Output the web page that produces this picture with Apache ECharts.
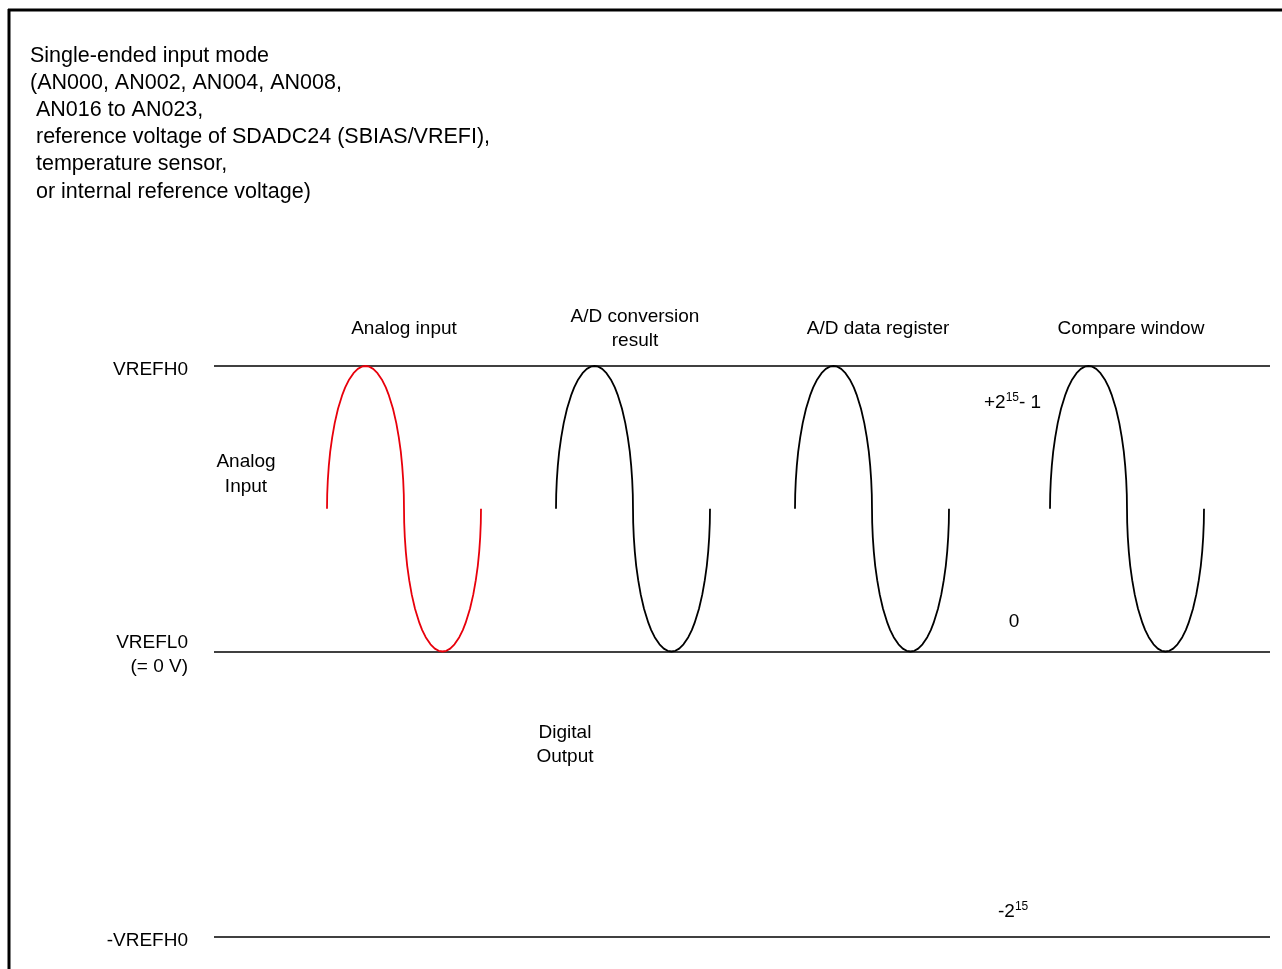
<!DOCTYPE html>
<html>
<head>
<meta charset="utf-8">
<script src="https://cdn.jsdelivr.net/npm/echarts@6/dist/echarts.min.js"></script>
<style>
  html, body { margin: 0; padding: 0; background: #fff; }
  #chart { width: 1282px; height: 969px; }
</style>
</head>
<body>
<div id="chart"></div>
<script>
// level labels on the y axis (-VREFH0, VREFL0, VREFH0)
var levelLabels = ['-VREFH0', 'VREFL0\n(= 0 V)', 'VREFH0'];

// column headings and where they sit
var columnNames = ['Analog input', 'A/D conversion\nresult', 'A/D data register', 'Compare window'];
var columnX = [404, 635, 878, 1131];

// left edge of each wave (x in px along the axis)
var waveStarts = [327, 556, 795, 1050];
var waveColors = ['#e8000b', '#000', '#000', '#000'];

// one wave: [dx from start, level] (0 = VREFL0, 1 = VREFH0)
var waveShape = [
    [0, 0.5], [0.2, 0.55], [0.8, 0.6], [1.8, 0.65], [3.2, 0.7], [5.2, 0.75], [7.7, 0.8], [11, 0.85],
    [15.4, 0.9], [18.2, 0.925], [21.7, 0.95], [26.5, 0.975], [30.8, 0.99], [34.7, 0.9975], [38.5, 1],
    [42.3, 0.9975], [46.2, 0.99], [50.5, 0.975], [55.3, 0.95], [58.8, 0.925], [61.6, 0.9], [66, 0.85],
    [69.3, 0.8], [71.8, 0.75], [73.8, 0.7], [75.2, 0.65], [76.2, 0.6], [76.8, 0.55], [77, 0.5],
    [77.2, 0.45], [77.8, 0.4], [78.8, 0.35], [80.2, 0.3], [82.2, 0.25], [84.7, 0.2], [88, 0.15],
    [92.4, 0.1], [95.2, 0.075], [98.7, 0.05], [103.5, 0.025], [107.8, 0.01], [111.7, 0.0025], [115.5, 0],
    [119.3, 0.0025], [123.2, 0.01], [127.5, 0.025], [132.3, 0.05], [135.8, 0.075], [138.6, 0.1], [143, 0.15],
    [146.3, 0.2], [148.8, 0.25], [150.8, 0.3], [152.2, 0.35], [153.2, 0.4], [153.8, 0.45], [154, 0.5]
];

var FONT = '"Liberation Sans", Arial, sans-serif';

var chart = echarts.init(document.getElementById('chart'));

var series = waveStarts.map(function (x0, i) {
    return {
        type: 'line',
        data: waveShape.map(function (p) { return [x0 + p[0], p[1]]; }),
        smooth: false,
        showSymbol: false,
        silent: true,
        animation: false,
        lineStyle: { color: waveColors[i], width: 1.8, join: 'round' }
    };
});

var graphics = [
    // frame
    { type: 'line', shape: { x1: 8, y1: 10, x2: 1282, y2: 10 }, style: { stroke: '#000', lineWidth: 3 } },
    { type: 'line', shape: { x1: 9, y1: 9, x2: 9, y2: 969 }, style: { stroke: '#000', lineWidth: 3 } },
    {
        type: 'text', left: 30, top: 42,
        style: {
            text: 'Single-ended input mode\n(AN000, AN002, AN004, AN008,\n AN016 to AN023,\n reference voltage of SDADC24 (SBIAS/VREFI),\n temperature sensor,\n or internal reference voltage)',
            font: '21.5px ' + FONT, fill: '#000', lineHeight: 27.2
        }
    },
    {
        type: 'text', x: 246, y: 474,
        style: { text: 'Analog\nInput', font: '19px ' + FONT, fill: '#000', align: 'center', verticalAlign: 'middle', lineHeight: 25 }
    },
    {
        type: 'text', x: 565, y: 745,
        style: { text: 'Digital\nOutput', font: '19px ' + FONT, fill: '#000', align: 'center', verticalAlign: 'middle', lineHeight: 24 }
    },
    {
        type: 'text', x: 984, y: 403,
        style: {
            text: '{n|+2}{s|15}{n|- 1}', verticalAlign: 'middle',
            rich: {
                n: { font: '19px ' + FONT, fill: '#000', lineHeight: 22 },
                s: { font: '12px ' + FONT, fill: '#000', lineHeight: 22, verticalAlign: 'top' }
            }
        }
    },
    {
        type: 'text', x: 1014, y: 622,
        style: { text: '0', font: '19px ' + FONT, fill: '#000', align: 'center', verticalAlign: 'middle' }
    },
    {
        type: 'text', x: 998, y: 912,
        style: {
            text: '{n|-2}{s|15}', verticalAlign: 'middle',
            rich: {
                n: { font: '19px ' + FONT, fill: '#000', lineHeight: 22 },
                s: { font: '12px ' + FONT, fill: '#000', lineHeight: 22, verticalAlign: 'top' }
            }
        }
    }
];

columnNames.forEach(function (name, i) {
    graphics.push({
        type: 'text', x: columnX[i], y: 329,
        style: { text: name, font: '19px ' + FONT, fill: '#000', align: 'center', verticalAlign: 'middle', lineHeight: 24 }
    });
});

var option = {
    backgroundColor: '#fff',
    animation: false,
    grid: { left: 214, right: 12, top: 366, bottom: 32 },
    xAxis: {
        type: 'value', min: 214, max: 1270,
        show: false
    },
    yAxis: {
        type: 'value', min: -1, max: 1, interval: 1,
        axisLine: { show: false },
        axisTick: { show: false },
        splitLine: { show: true, lineStyle: { color: '#000', width: 1.6 } },
        axisLabel: {
            margin: 26,
            color: '#000',
            formatter: function (v) {
                return levelLabels[v + 1].split('\n').map(function (s) { return '{t|' + s + '}'; }).join('\n');
            },
            rich: {
                t: { fontFamily: FONT, fontSize: 19, lineHeight: 24, color: '#000', padding: [7, 0, 0, 0] }
            }
        }
    },
    graphic: graphics,
    series: series
};

chart.setOption(option);
window.onresize = chart.resize;
</script>
</body>
</html>
